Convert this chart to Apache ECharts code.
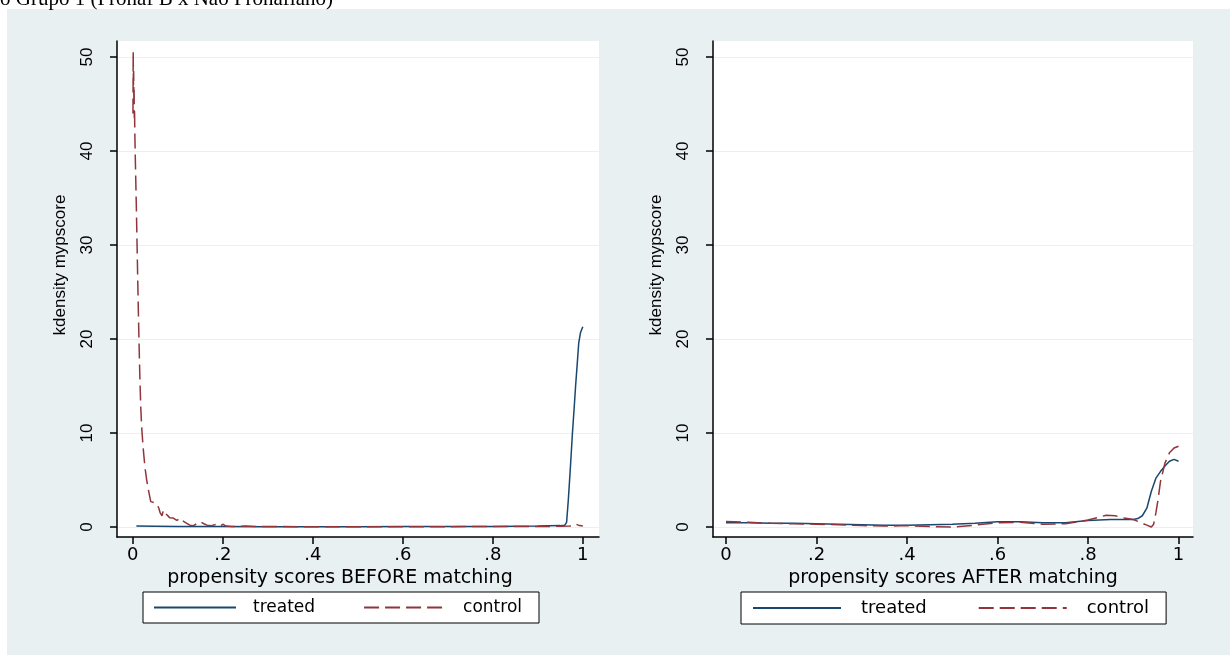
<!DOCTYPE html>
<html>
<head>
<meta charset="utf-8">
<script src="https://cdn.jsdelivr.net/npm/echarts@6/dist/echarts.min.js"></script>
<style>
  html, body { margin: 0; padding: 0; background: #ffffff; }
  #bg { position: absolute; left: 7px; top: 9px; width: 1223px; height: 646px; background: #e9f0f2; }
  #chart { position: absolute; left: 0; top: 0; width: 1230px; height: 655px; }
</style>
</head>
<body>
<div id="bg"></div>
<div id="chart"></div>
<script>
// ---------- data ----------
const xTicks = [0, 0.2, 0.4, 0.6, 0.8, 1];
const xTickLabels = ['0', '.2', '.4', '.6', '.8', '1'];
const yTicks = [0, 10, 20, 30, 40, 50];
const yTickLabels = ['0', '10', '20', '30', '40', '50'];

const seriesNames = ['treated', 'control'];
const panelTitles = ['propensity scores BEFORE matching', 'propensity scores AFTER matching'];
const yAxisTitle = 'kdensity mypscore';
const pageHeading = 'o Grupo 1 (Pronaf B x Não Pronafiano)';

// BEFORE matching - treated
const treatedBeforeX = [0.008, 0.05, 0.1, 0.15, 0.2, 0.3, 0.4, 0.5, 0.6, 0.7, 0.8, 0.9, 0.95, 0.96, 0.964, 0.968, 0.972, 0.977, 0.981, 0.984, 0.988, 0.991, 0.995, 1.0];
const treatedBeforeY = [0.1, 0.08, 0.06, 0.05, 0.05, 0.04, 0.04, 0.04, 0.05, 0.05, 0.06, 0.1, 0.15, 0.2, 0.5, 3.0, 6.0, 10.0, 12.8, 15.0, 17.6, 19.6, 20.7, 21.3];

// BEFORE matching - control
const controlBeforeX = [0.0005, 0.001, 0.0015, 0.002, 0.0025, 0.003, 0.0035, 0.004, 0.0045, 0.006, 0.008, 0.010, 0.012, 0.014, 0.016, 0.018, 0.020, 0.023, 0.027, 0.031, 0.035, 0.040, 0.047, 0.053, 0.058, 0.061, 0.065, 0.068, 0.072, 0.075, 0.082, 0.090, 0.098, 0.105, 0.113, 0.120, 0.127, 0.135, 0.142, 0.150, 0.158, 0.165, 0.175, 0.187, 0.195, 0.200, 0.207, 0.220, 0.250, 0.280, 0.320, 0.400, 0.500, 0.600, 0.700, 0.800, 0.900, 0.950, 0.970, 0.980, 0.985, 0.990, 1.000];
const controlBeforeY = [44.0, 50.6, 47.0, 48.5, 45.5, 46.5, 43.5, 44.5, 42.2, 38.5, 34.0, 29.0, 24.0, 19.5, 15.6, 12.5, 10.5, 8.5, 6.4, 5.0, 3.9, 2.7, 2.6, 2.5, 2.0, 1.5, 1.2, 1.8, 1.5, 1.3, 1.0, 0.95, 0.7, 0.95, 0.6, 0.4, 0.2, 0.15, 0.35, 0.56, 0.35, 0.2, 0.15, 0.3, 0.1, 0.3, 0.1, 0.05, 0.1, 0.05, 0.05, 0.03, 0.03, 0.03, 0.04, 0.05, 0.05, 0.08, 0.1, 0.15, 0.3, 0.2, 0.1];

// AFTER matching - treated
const treatedAfterX = [0.0, 0.05, 0.1, 0.15, 0.2, 0.25, 0.3, 0.35, 0.4, 0.45, 0.5, 0.55, 0.6, 0.65, 0.7, 0.75, 0.8, 0.85, 0.9, 0.91, 0.92, 0.93, 0.94, 0.95, 0.96, 0.97, 0.98, 0.99, 1.0];
const treatedAfterY = [0.45, 0.45, 0.4, 0.4, 0.35, 0.3, 0.25, 0.2, 0.2, 0.25, 0.3, 0.4, 0.55, 0.55, 0.45, 0.45, 0.7, 0.8, 0.8, 0.9, 1.2, 2.0, 3.8, 5.2, 5.9, 6.5, 7.0, 7.2, 7.0];

// AFTER matching - control
const controlAfterX = [0.0, 0.05, 0.1, 0.15, 0.2, 0.25, 0.3, 0.35, 0.4, 0.45, 0.5, 0.55, 0.6, 0.65, 0.7, 0.75, 0.8, 0.82, 0.84, 0.86, 0.88, 0.9, 0.915, 0.93, 0.94, 0.945, 0.95, 0.955, 0.96, 0.97, 0.98, 0.99, 1.0];
const controlAfterY = [0.6, 0.5, 0.4, 0.35, 0.3, 0.25, 0.15, 0.1, 0.15, 0.05, 0.0, 0.2, 0.45, 0.5, 0.3, 0.35, 0.75, 1.0, 1.25, 1.2, 0.95, 0.8, 0.5, 0.2, 0.0, 0.3, 1.5, 3.0, 4.8, 6.8, 7.9, 8.4, 8.6];

// ---------- chart ----------
const zip = (xs, ys) => xs.map((x, i) => [x, ys[i]]);
const colTreated = '#1a476f';
const colControl = '#90353b';

function xAxisCfg(grid, min, max, title, padRight) {
  return {
    gridIndex: grid, type: 'value', min: min, max: max,
    name: title, nameLocation: 'middle', nameGap: 27,
    nameTextStyle: { fontFamily: 'DejaVu Sans', fontSize: 19, color: '#000', padding: [0, padRight, 0, 0] },
    axisLine: { show: true, onZero: false, lineStyle: { color: '#000', width: 1.5 } },
    axisTick: { show: true, length: 7, customValues: xTicks, lineStyle: { color: '#000', width: 1.5 } },
    axisLabel: {
      customValues: xTicks, margin: 9, fontFamily: 'DejaVu Sans', fontSize: 18, color: '#000',
      formatter: v => xTickLabels[xTicks.indexOf(v)] ?? String(v)
    },
    splitLine: { show: false }
  };
}
function yAxisCfg(grid) {
  return {
    gridIndex: grid, type: 'value', min: -1.06, max: 51.7,
    name: yAxisTitle, nameLocation: 'middle', nameGap: 48,
    nameTextStyle: { fontFamily: 'Liberation Sans Narrow, Liberation Sans', fontSize: 17, color: '#000', padding: [0, 0, 0, 48] },
    axisLine: { show: true, onZero: false, lineStyle: { color: '#000', width: 1.5 } },
    axisTick: { show: true, length: 7, customValues: yTicks, lineStyle: { color: '#000', width: 1.5 } },
    axisLabel: {
      customValues: yTicks, rotate: 90, margin: 21, fontFamily: 'Liberation Sans', fontSize: 17, color: '#000',
      formatter: v => yTickLabels[yTicks.indexOf(v)] ?? String(v)
    },
    splitLine: { show: true, lineStyle: { color: '#eaeff1', width: 1 } }
  };
}
function legendCfg(left, itemWidth, gap, fontSize, textPad, pad) {
  return {
    left: left, top: 592, orient: 'horizontal', data: seriesNames,
    itemWidth: itemWidth, itemHeight: 14, itemGap: gap,
    padding: pad, backgroundColor: '#fff', borderColor: '#000', borderWidth: 1, borderRadius: 0,
    itemStyle: { opacity: 0 },
    textStyle: { fontFamily: 'DejaVu Sans', fontSize: fontSize, lineHeight: 17, color: '#000', padding: [0, 0, 0, textPad] },
    selectedMode: false
  };
}
function lineSeries(name, xi, data, color, dashed) {
  return {
    name: name, type: 'line', xAxisIndex: xi, yAxisIndex: xi, data: data,
    symbol: 'none', showSymbol: false, smooth: false, clip: true,
    lineStyle: { color: color, width: 1.5, type: dashed ? [15, 6] : 'solid' },
    itemStyle: { color: color }
  };
}

const chart = echarts.init(document.getElementById('chart'), null, { renderer: 'canvas' });
chart.setOption({
  animation: false,
  backgroundColor: 'transparent',
  graphic: [{
    type: 'text', left: 0, top: -11, silent: true,
    style: { text: pageHeading, font: '21px "Liberation Serif"', fill: '#000' }
  }],
  grid: [
    { left: 117, top: 41, width: 482, height: 496, show: true, backgroundColor: '#fff', borderWidth: 0 },
    { left: 713, top: 41, width: 480, height: 496, show: true, backgroundColor: '#fff', borderWidth: 0 }
  ],
  xAxis: [
    xAxisCfg(0, -0.035, 1.036, panelTitles[0], 36),
    xAxisCfg(1, -0.0287, 1.032, panelTitles[1], 0)
  ],
  yAxis: [yAxisCfg(0), yAxisCfg(1)],
  legend: [
    legendCfg(143, 82, 48, 17, 12, [7, 17, 7, 10]),
    legendCfg(741, 88, 51, 18, 15, [7, 17, 7, 11])
  ],
  series: [
    lineSeries(seriesNames[0], 0, zip(treatedBeforeX, treatedBeforeY), colTreated, false),
    lineSeries(seriesNames[1], 0, zip(controlBeforeX, controlBeforeY), colControl, true),
    lineSeries(seriesNames[0], 1, zip(treatedAfterX, treatedAfterY), colTreated, false),
    lineSeries(seriesNames[1], 1, zip(controlAfterX, controlAfterY), colControl, true)
  ]
});
</script>
</body>
</html>
